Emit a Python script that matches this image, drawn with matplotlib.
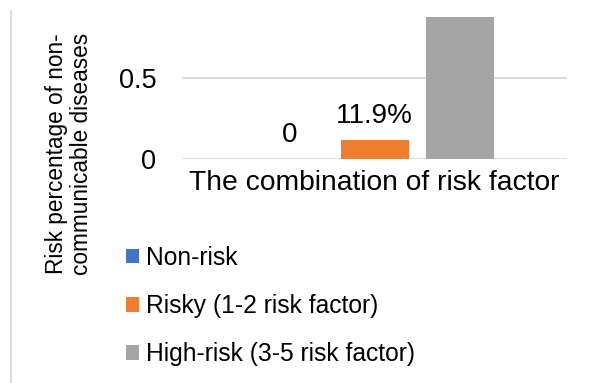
import matplotlib
matplotlib.use("Agg")
import matplotlib.pyplot as plt
from matplotlib.lines import Line2D

plt.rcParams['font.family'] = ['Liberation Sans', 'DejaVu Sans']

# Data
category = "The combination of risk factor"
series_names = ["Non-risk", "Risky (1-2 risk factor)", "High-risk (3-5 risk factor)"]
series_values = [0.0, 0.119, 0.881]
value_labels = ["0", "11.9%"]          # labels shown for the lower two bars
series_colors = ["#4472C4", "#ED7D31", "#A5A5A5"]
y_ticks = [0, 0.5]
y_tick_labels = ["0", "0.5"]
y_title = "Risk percentage of non-\ncommunicable diseases"

W, H = 597, 383
fig = plt.figure(figsize=(W / 100, H / 100), dpi=100)

# Plot area in pixel terms
left_px, right_px = 182, 567
zero_px = 159.3
unit_px = 162.0
ax = fig.add_axes([left_px / W, (H - zero_px) / H,
                   (right_px - left_px) / W, unit_px / H])
ax.set_xlim(-0.5, 0.5)
ax.set_ylim(0, 1)

bar_w = 68 / (right_px - left_px)
step = 85 / (right_px - left_px)
offsets = [(i - 1) * step for i in range(len(series_values))]

bars = []
for off, v, c, name in zip(offsets, series_values, series_colors, series_names):
    b = ax.bar(off, v, width=bar_w, color=c, label=name, zorder=3, clip_on=False)
    bars.append(b)

for off, v, lab in zip(offsets, series_values, value_labels):
    ax.annotate(lab, xy=(off, v), xytext=(0, 12.5), textcoords="offset points",
                ha="center", va="baseline", fontsize=20, color="#000000")

# Axes styling
for s in ax.spines.values():
    s.set_visible(False)
ax.set_yticks(y_ticks)
ax.set_yticklabels(y_tick_labels, fontsize=19.5)
ax.tick_params(axis="y", length=0, pad=18.5)
ax.tick_params(axis="x", length=0)
ax.set_xticks([])
for yv in y_ticks:
    ax.axhline(yv, color="#D9D9D9", lw=1.3, zorder=1)

# Category label under the axis
fig.text((left_px + right_px) / 2 / W, 1 - 183 / H, category,
         ha="center", va="center", fontsize=20.3)

# Vertical axis title
fig.text(69 / W, 1 - 154 / H, y_title, rotation=90, ha="center", va="center",
         multialignment="center", fontsize=16.3, linespacing=1.12)

# Light chart frame on the left edge
fig.add_artist(Line2D([10.5 / W, 10.5 / W], [0, 1 - 11 / H],
                      transform=fig.transFigure, color="#D9D9D9", lw=1.3))

# Legend
handles = [b[0] for b in bars]
fig.legend(handles, series_names, loc="upper left",
           bbox_to_anchor=(126 / W, 1 - 246 / H), frameon=False,
           fontsize=17.7, handlelength=0.52, handleheight=0.52,
           handletextpad=0.28, labelspacing=0.98, borderpad=0, borderaxespad=0)

fig.savefig("out.png", dpi=100)
